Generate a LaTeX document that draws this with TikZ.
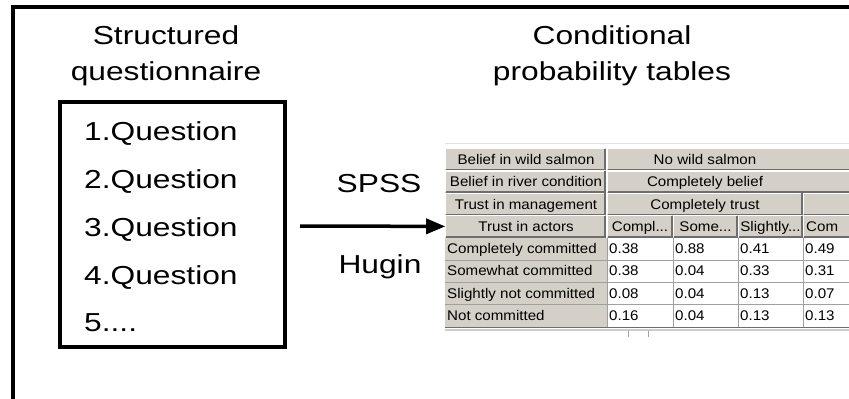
\documentclass[tikz,border=0pt]{standalone}
\usepackage{fontspec}
\newfontfamily\slidefont{Liberation Sans}[FakeStretch=1.22]
\newfontfamily\cptfont{Liberation Sans}[FakeStretch=1.08]
\usetikzlibrary{arrows}
\definecolor{btngray}{HTML}{D4D0C8}
\definecolor{btnshade}{HTML}{6E6E6E}
\definecolor{gridgray}{HTML}{A0A0A0}
\tikzset{
  slide/.style={font=\slidefont\fontsize{26}{30}\selectfont, inner sep=0pt},
  cpt/.style={font=\cptfont\fontsize{14}{16}\selectfont, inner sep=0pt},
}
% a raised Hugin header cell: left, top, right, bottom
\newcommand\cptbtn[4]{%
  \fill[btngray] (#1,#2) rectangle (#3,#4);
  \draw[white, line width=1.2pt] (#1+0.6,#4-1) -- (#1+0.6,#2+0.6) -- (#3-1,#2+0.6);
  \draw[btnshade, line width=1.6pt] (#1+0.6,#4-0.8) -- (#3-0.8,#4-0.8) -- (#3-0.8,#2+0.6);}

\begin{document}
\begin{tikzpicture}[line join=miter,>=triangle 45,x=1pt,y=-1pt]
\useasboundingbox (0,0) rectangle (849,399);
\clip (0,0) rectangle (849,399);
% outer frame
\draw [line width=4pt] (870,7) -- (13,7) -- (13,420);
% titles
\node[slide, anchor=base] (hq1) at (166,44) {Structured};
\node[slide, anchor=base] (hq2) at (166,80) {questionnaire};
\node[slide, anchor=base] (hc1) at (612,44) {Conditional};
\node[slide, anchor=base] (hc2) at (612,80) {probability tables};
% questionnaire
\draw [line width=4pt] (60,102) rectangle (285,347);
\node[slide, anchor=base west] (q1) at (84,140) {1.Question};
\node[slide, anchor=base west] (q2) at (84,188) {2.Question};
\node[slide, anchor=base west] (q3) at (84,236) {3.Question};
\node[slide, anchor=base west] (q4) at (84,284) {4.Question};
\node[slide, anchor=base west] (q5) at (84,331) {5....};
\node[slide, anchor=base] (spss) at (379,192) {SPSS};
\node[slide, anchor=base] (hugin) at (380,273) {Hugin};
% table header
\draw [black!12, line width=1pt] (445,143) -- (870,143);
\cptbtn{445}{148}{606}{170.4}  \cptbtn{607}{148}{870}{170.4}
\cptbtn{445}{170.4}{606}{192.8} \cptbtn{607}{170.4}{870}{192.8}
\cptbtn{445}{192.8}{606}{215.2} \cptbtn{607}{192.8}{803}{215.2} \cptbtn{803}{192.8}{870}{215.2}
\cptbtn{445}{215.2}{606}{237.6}
\cptbtn{607}{215.2}{673}{237.6} \cptbtn{673}{215.2}{738}{237.6}
\cptbtn{738}{215.2}{803}{237.6} \cptbtn{803}{215.2}{870}{237.6}
\node[cpt, anchor=base] (salmon) at (526,164.2) {Belief in wild salmon};
\node[cpt, anchor=base] (river) at (526,186.6) {Belief in river condition};
\node[cpt, anchor=base] (mgmt) at (526,209) {Trust in management};
\node[cpt, anchor=base] (actors) at (526,231.4) {Trust in actors};
\node[cpt, anchor=base] (nosalmon) at (705,164.2) {No wild salmon};
\node[cpt, anchor=base] (belief) at (705,186.6) {Completely belief};
\node[cpt, anchor=base] (trust) at (705,209) {Completely trust};
\node[cpt, anchor=base] (s1) at (640,231.4) {Compl...};
\node[cpt, anchor=base] (s2) at (705.5,231.4) {Some...};
\node[cpt, anchor=base] (s3) at (770.5,231.4) {Slightly...};
\node[cpt, anchor=base west] (s4) at (806,231.4) {Com};
% table body
\fill [btngray] (445,237.6) rectangle (607,327.2);
\foreach \y in {260,282.4,304.8}
  \draw [gridgray, line width=1pt] (445,\y) -- (870,\y);
\foreach \x in {607,673,738,803}
  \draw [gridgray, line width=1pt] (\x,237.6) -- (\x,327.2);
\draw [btnshade, line width=1.5pt] (445,327.6) -- (870,327.6);
\draw [black!20, line width=1.5pt] (445,329.8) -- (870,329.8);
\draw [gridgray, line width=0.8pt] (628,331) -- (628,337) (648,331) -- (648,337);
\foreach \lab/\va/\vb/\vc/\vd [count=\i] in {%
    Completely committed/0.38/0.88/0.41/0.49,
    Somewhat committed/0.38/0.04/0.33/0.31,
    Slightly not committed/0.08/0.04/0.13/0.07,
    Not committed/0.16/0.04/0.13/0.13} {
  \node[cpt, anchor=base west] (row\i) at (447,230.8+22.4*\i) {\lab};
  \node[cpt, anchor=base west] (v\i a) at (609,230.8+22.4*\i) {\va};
  \node[cpt, anchor=base west] (v\i b) at (675,230.8+22.4*\i) {\vb};
  \node[cpt, anchor=base west] (v\i c) at (740,230.8+22.4*\i) {\vc};
  \node[cpt, anchor=base west] (v\i d) at (805,230.8+22.4*\i) {\vd};
}
% link
\coordinate (qout) at (300,226);
\draw [->, line width=3.5pt] (qout) -- (actors.west -| 445,226);
\end{tikzpicture}
\end{document}
